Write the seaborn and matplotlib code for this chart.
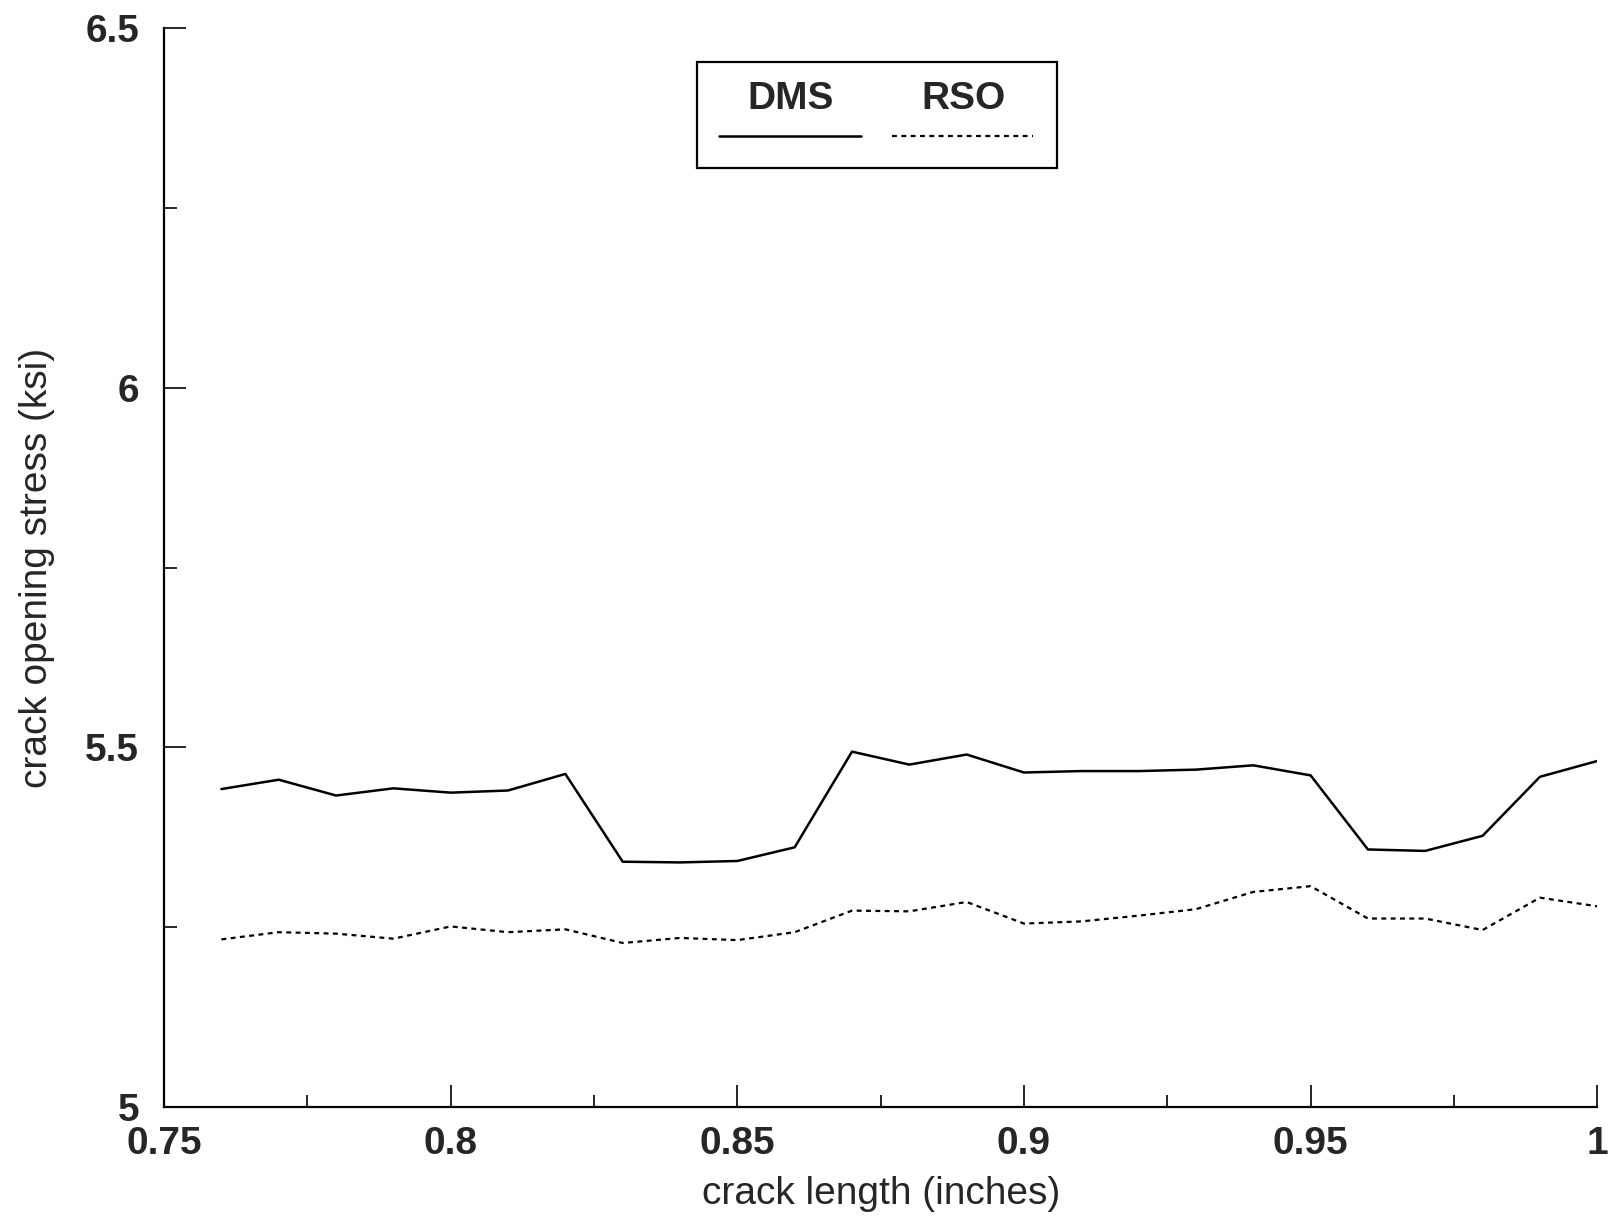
import pandas as pd
import matplotlib
matplotlib.use('Agg')
import matplotlib.pyplot as plt
from matplotlib.patches import Rectangle
from matplotlib.lines import Line2D
from matplotlib.ticker import MultipleLocator
import seaborn as sns

crack_length = [0.76, 0.77, 0.78, 0.79, 0.80, 0.81, 0.82, 0.83, 0.84, 0.85,
                0.86, 0.87, 0.88, 0.89, 0.90, 0.91, 0.92, 0.93, 0.94, 0.95,
                0.96, 0.97, 0.98, 0.99, 1.00]
dms = [5.442, 5.455, 5.433, 5.443, 5.437, 5.440, 5.463, 5.341, 5.340, 5.342,
       5.361, 5.494, 5.476, 5.490, 5.465, 5.467, 5.467, 5.469, 5.475, 5.461,
       5.358, 5.356, 5.377, 5.459, 5.481]
rso = [5.233, 5.243, 5.241, 5.234, 5.251, 5.243, 5.247, 5.228, 5.235, 5.232,
       5.243, 5.273, 5.272, 5.285, 5.255, 5.258, 5.266, 5.275, 5.299, 5.307,
       5.262, 5.262, 5.246, 5.291, 5.279]

df = pd.DataFrame({'crack length': crack_length, 'DMS': dms, 'RSO': rso})

sns.set_style('ticks')
plt.rcParams['font.family'] = ['Liberation Sans', 'DejaVu Sans']

fig = plt.figure(figsize=(16.15, 12.24), dpi=100)
ax = fig.add_axes([0.1016, 0.0956, 0.8874, 0.8815])

sns.lineplot(data=df, x='crack length', y='DMS', ax=ax, color='black', lw=1.8)
sns.lineplot(data=df, x='crack length', y='RSO', ax=ax, color='black', lw=1.6,
             linestyle=(0, (2.2, 2.0)))

ax.set_xlim(0.75, 1.0)
ax.set_ylim(5, 6.5)
ax.xaxis.set_minor_locator(MultipleLocator(0.025))
ax.yaxis.set_minor_locator(MultipleLocator(0.25))
ax.set_xticks([0.75, 0.8, 0.85, 0.9, 0.95, 1.0])
ax.set_xticklabels(['0.75', '0.8', '0.85', '0.9', '0.95', '1'])
ax.set_yticks([5, 5.5, 6, 6.5])
ax.set_yticklabels(['5', '5.5', '6', '6.5'])

ax.tick_params(which='major', direction='in', length=16, width=1.4, labelsize=28)
ax.tick_params(axis='x', which='major', pad=14)
ax.tick_params(axis='y', which='major', pad=18)
ax.tick_params(which='minor', direction='in', length=9, width=1.4)
for lab in ax.get_xticklabels() + ax.get_yticklabels():
    lab.set_fontweight('bold')

for side in ['top', 'right']:
    ax.spines[side].set_visible(False)
for side in ['left', 'bottom']:
    ax.spines[side].set_linewidth(1.6)
    ax.spines[side].set_color('black')

ax.set_xlabel('crack length (inches)', fontsize=28)
ax.set_ylabel('crack opening stress (ksi)', fontsize=28)
ax.xaxis.set_label_coords(0.5, -0.064)
ax.yaxis.set_label_coords(-0.076, 0.5)

# legend box: labels above line samples
ax.add_patch(Rectangle((0.372, 0.870), 0.251, 0.0985, transform=ax.transAxes,
                       fill=False, edgecolor='black', lw=1.6, clip_on=False))
ax.text(0.437, 0.934, 'DMS', transform=ax.transAxes, ha='center', va='center',
        fontsize=28, fontweight='bold')
ax.text(0.558, 0.934, 'RSO', transform=ax.transAxes, ha='center', va='center',
        fontsize=28, fontweight='bold')
ax.add_line(Line2D([0.387, 0.486], [0.900, 0.900], transform=ax.transAxes,
                   color='black', lw=1.8))
ax.add_line(Line2D([0.508, 0.606], [0.900, 0.900], transform=ax.transAxes,
                   color='black', lw=1.6, linestyle=(0, (2.2, 2.0))))

fig.savefig('out.png', dpi=100)
